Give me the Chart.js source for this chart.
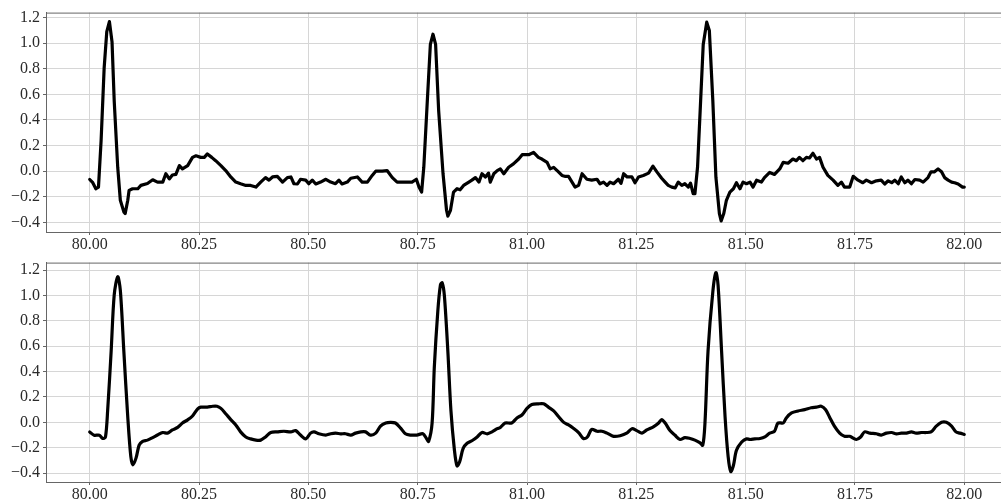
<!DOCTYPE html>
<html>
<head>
<meta charset="utf-8">
<script src="https://cdn.jsdelivr.net/npm/chart.js@4/dist/chart.umd.min.js"></script>
<style>
html,body{margin:0;padding:0;background:#fff;overflow:hidden;width:1001px;height:501px;}
.box{position:absolute;left:0;width:1008px;}
#b1{top:0;height:250px;}
#b2{top:250px;height:251px;}
</style>
</head>
<body>
<div class="box" id="b1"><canvas id="c1"></canvas></div>
<div class="box" id="b2"><canvas id="c2"></canvas></div>
<script>
// ---- data ----
const xTicks = [80.00, 80.25, 80.50, 80.75, 81.00, 81.25, 81.50, 81.75, 82.00];
const yTicks = [-0.4, -0.2, 0.0, 0.2, 0.4, 0.6, 0.8, 1.0, 1.2];

const topTime = [80.000,80.007,80.014,80.020,80.026,80.033,80.039,80.045,80.051,80.056,80.064,80.070,80.078,80.081,80.087,80.090,80.098,80.110,80.117,80.132,80.144,80.155,80.167,80.174,80.182,80.189,80.197,80.205,80.212,80.224,80.235,80.243,80.254,80.262,80.269,80.279,80.288,80.300,80.311,80.323,80.334,80.345,80.357,80.368,80.380,80.391,80.402,80.410,80.418,80.429,80.441,80.452,80.460,80.467,80.475,80.482,80.494,80.501,80.509,80.517,80.528,80.540,80.551,80.562,80.570,80.577,80.589,80.597,80.612,80.623,80.635,80.646,80.654,80.669,80.680,80.692,80.703,80.715,80.726,80.737,80.747,80.753,80.759,80.764,80.772,80.779,80.785,80.791,80.798,80.808,80.816,80.819,80.825,80.832,80.840,80.847,80.855,80.867,80.874,80.882,80.890,80.897,80.905,80.912,80.916,80.924,80.932,80.939,80.947,80.958,80.969,80.981,80.989,81.004,81.015,81.026,81.034,81.046,81.053,81.061,81.072,81.080,81.088,81.095,81.103,81.110,81.118,81.126,81.137,81.148,81.160,81.167,81.175,81.183,81.190,81.198,81.209,81.215,81.221,81.229,81.240,81.247,81.255,81.266,81.278,81.288,81.297,81.308,81.316,81.323,81.331,81.339,81.346,81.354,81.361,81.369,81.374,81.380,81.384,81.390,81.396,81.403,81.411,81.417,81.425,81.432,81.440,81.444,81.450,81.456,81.464,81.472,81.479,81.487,81.494,81.502,81.510,81.517,81.525,81.536,81.543,81.555,81.566,81.578,81.586,81.597,81.608,81.616,81.623,81.631,81.639,81.646,81.654,81.662,81.669,81.677,81.688,81.700,81.711,81.719,81.726,81.738,81.746,81.757,81.768,81.776,81.788,81.799,81.810,81.818,81.826,81.834,81.841,81.849,81.856,81.864,81.871,81.879,81.887,81.898,81.906,81.917,81.924,81.932,81.940,81.948,81.955,81.963,81.971,81.978,81.986,81.996,82.000];
const topValue = [-0.065,-0.09,-0.137,-0.124,0.238,0.807,1.09,1.169,1.01,0.548,0.031,-0.227,-0.318,-0.331,-0.227,-0.15,-0.137,-0.137,-0.111,-0.096,-0.067,-0.085,-0.085,-0.02,-0.06,-0.03,-0.025,0.044,0.018,0.044,0.108,0.12,0.108,0.108,0.135,0.108,0.082,0.044,0.005,-0.047,-0.085,-0.098,-0.111,-0.111,-0.124,-0.085,-0.05,-0.07,-0.045,-0.041,-0.085,-0.05,-0.045,-0.098,-0.1,-0.063,-0.07,-0.098,-0.07,-0.1,-0.085,-0.063,-0.085,-0.098,-0.07,-0.1,-0.085,-0.055,-0.045,-0.085,-0.085,-0.033,0.0,0.0,0.005,-0.05,-0.085,-0.085,-0.085,-0.085,-0.063,-0.124,-0.163,0.031,0.548,0.99,1.07,0.99,0.471,-0.02,-0.305,-0.351,-0.305,-0.163,-0.137,-0.145,-0.111,-0.085,-0.07,-0.05,-0.085,-0.02,-0.045,-0.015,-0.085,-0.02,0.005,0.018,-0.02,0.031,0.057,0.095,0.129,0.129,0.147,0.108,0.095,0.069,0.018,0.03,-0.005,-0.033,-0.041,-0.041,-0.085,-0.124,-0.111,-0.02,-0.063,-0.07,-0.063,-0.098,-0.085,-0.111,-0.085,-0.098,-0.063,-0.095,-0.02,-0.045,-0.045,-0.09,-0.045,-0.033,-0.015,0.039,-0.005,-0.055,-0.085,-0.111,-0.124,-0.13,-0.085,-0.111,-0.098,-0.124,-0.093,-0.176,-0.176,0.031,0.471,0.99,1.164,1.1,0.548,-0.047,-0.331,-0.388,-0.33,-0.227,-0.163,-0.137,-0.09,-0.137,-0.085,-0.098,-0.085,-0.124,-0.07,-0.085,-0.05,-0.01,-0.025,0.018,0.069,0.062,0.095,0.082,0.108,0.082,0.108,0.103,0.14,0.095,0.108,0.031,-0.033,-0.07,-0.111,-0.085,-0.124,-0.124,-0.04,-0.07,-0.09,-0.07,-0.09,-0.075,-0.07,-0.1,-0.075,-0.09,-0.07,-0.098,-0.045,-0.09,-0.07,-0.098,-0.065,-0.07,-0.085,-0.05,-0.005,-0.005,0.018,-0.005,-0.05,-0.07,-0.085,-0.09,-0.1,-0.124,-0.124];

const bottomTime = [80.000,80.010,80.022,80.030,80.036,80.041,80.049,80.056,80.064,80.070,80.078,80.087,80.094,80.099,80.106,80.113,80.121,80.132,80.144,80.155,80.167,80.178,80.189,80.201,80.212,80.224,80.235,80.247,80.254,80.269,80.281,80.291,80.300,80.311,80.323,80.334,80.345,80.357,80.368,80.380,80.391,80.402,80.414,80.429,80.444,80.460,80.471,80.482,80.494,80.505,80.513,80.524,80.540,80.551,80.562,80.574,80.585,80.597,80.608,80.620,80.631,80.642,80.654,80.665,80.677,80.688,80.699,80.711,80.722,80.733,80.748,80.762,80.770,80.775,80.783,80.788,80.796,80.802,80.806,80.811,80.819,80.826,80.834,80.840,80.846,80.854,80.863,80.874,80.886,80.897,80.909,80.920,80.932,80.939,80.950,80.965,80.977,80.989,81.000,81.011,81.026,81.038,81.049,81.061,81.072,81.084,81.095,81.106,81.118,81.129,81.138,81.148,81.160,81.171,81.183,81.198,81.213,81.228,81.240,81.251,81.263,81.274,81.289,81.301,81.308,81.316,81.327,81.338,81.350,81.361,81.373,81.384,81.395,81.402,81.407,81.414,81.425,81.432,81.437,81.445,81.453,81.460,81.466,81.472,81.479,81.491,81.502,81.510,81.521,81.533,81.544,81.555,81.566,81.574,81.586,81.593,81.605,81.620,81.635,81.650,81.662,81.673,81.683,81.692,81.703,81.715,81.726,81.738,81.753,81.763,81.772,81.784,81.799,81.810,81.822,81.834,81.845,81.856,81.868,81.879,81.890,81.902,81.913,81.924,81.936,81.948,81.959,81.971,81.981,81.990,82.000];
const bottomValue = [-0.076,-0.101,-0.101,-0.127,-0.115,0.094,0.562,1.005,1.148,1.04,0.562,0.042,-0.27,-0.335,-0.28,-0.18,-0.15,-0.14,-0.12,-0.1,-0.08,-0.085,-0.06,-0.04,-0.005,0.02,0.05,0.107,0.12,0.12,0.127,0.127,0.11,0.068,0.02,-0.02,-0.075,-0.115,-0.13,-0.14,-0.14,-0.115,-0.08,-0.075,-0.07,-0.075,-0.065,-0.1,-0.13,-0.085,-0.075,-0.09,-0.1,-0.09,-0.085,-0.09,-0.09,-0.1,-0.085,-0.075,-0.075,-0.1,-0.085,-0.03,-0.005,0.0,-0.005,-0.045,-0.09,-0.1,-0.1,-0.09,-0.127,-0.15,-0.005,0.432,0.875,1.083,1.1,1.0,0.56,0.094,-0.218,-0.343,-0.31,-0.205,-0.165,-0.145,-0.115,-0.08,-0.09,-0.075,-0.05,-0.04,-0.005,-0.005,0.035,0.06,0.11,0.14,0.146,0.146,0.12,0.09,0.046,0.0,-0.02,-0.046,-0.08,-0.127,-0.115,-0.055,-0.07,-0.07,-0.085,-0.11,-0.105,-0.085,-0.05,-0.065,-0.085,-0.06,-0.035,-0.005,0.022,-0.005,-0.065,-0.1,-0.135,-0.12,-0.127,-0.14,-0.16,-0.18,-0.005,0.562,1.03,1.18,1.08,0.56,0.042,-0.27,-0.388,-0.34,-0.22,-0.155,-0.13,-0.135,-0.13,-0.127,-0.115,-0.085,-0.07,-0.005,-0.005,0.035,0.074,0.09,0.1,0.115,0.12,0.127,0.1,0.04,-0.03,-0.085,-0.11,-0.11,-0.135,-0.115,-0.075,-0.085,-0.09,-0.1,-0.085,-0.08,-0.09,-0.085,-0.085,-0.075,-0.085,-0.08,-0.08,-0.075,-0.03,0.0,0.0,-0.03,-0.075,-0.085,-0.095];

// ---- styling ----
const FONT = {family: '"Liberation Serif", "Times New Roman", serif', size: 16};
const LABEL_COLOR = '#2a2a2a';
const SPINE = '#666666';
const GRID = '#d6d6d6';

const topSpine = {
  id: 'topSpine',
  afterDraw(chart) {
    const a = chart.chartArea, ctx = chart.ctx;
    ctx.save();
    ctx.strokeStyle = SPINE;
    ctx.lineWidth = 1;
    ctx.beginPath();
    ctx.moveTo(a.left, a.top + 0.5);
    ctx.lineTo(a.right, a.top + 0.5);
    ctx.stroke();
    ctx.restore();
  }
};

function fmt(v) {
  const s = Math.abs(v).toFixed(1);
  return (v < -1e-9 ? '\u2212' : '') + s;
}
function fmtX(v) { return v.toFixed(2); }

function makeChart(id, times, values, yMin, yMax, padTop, xHeight, tension) {
  const pts = times.map((t, i) => ({x: t, y: values[i]}));
  return new Chart(document.getElementById(id), {
    type: 'line',
    data: {datasets: [{
      data: pts,
      borderColor: '#000',
      borderWidth: 3.2,
      pointRadius: 0,
      tension: tension,
      fill: false,
      borderJoinStyle: 'round',
      borderCapStyle: 'round'
    }]},
    options: {
      responsive: true,
      maintainAspectRatio: false,
      animation: false,
      events: [],
      layout: {padding: {top: padTop, left: 0, right: 0, bottom: 0}},
      plugins: {legend: {display: false}, tooltip: {enabled: false}},
      scales: {
        x: {
          type: 'linear',
          min: 79.9, max: 82.1,
          afterBuildTicks: s => { s.ticks = xTicks.map(v => ({value: v})); },
          afterFit: s => { s.height = xHeight; },
          ticks: {font: FONT, color: LABEL_COLOR, padding: 0, maxRotation: 0, autoSkip: false, callback: v => fmtX(v)},
          grid: {color: GRID, lineWidth: 1, tickLength: 3, tickColor: SPINE},
          border: {display: true, color: SPINE, width: 1}
        },
        y: {
          type: 'linear',
          min: yMin, max: yMax,
          afterBuildTicks: s => { s.ticks = yTicks.map(v => ({value: v})); },
          afterFit: s => { s.width = 46; },
          ticks: {font: FONT, color: LABEL_COLOR, padding: 3, callback: v => fmt(v)},
          grid: {color: GRID, lineWidth: 1, tickLength: 3, tickColor: SPINE},
          border: {display: true, color: SPINE, width: 1}
        }
      }
    },
    plugins: [topSpine]
  });
}

makeChart('c1', topTime, topValue, -0.475, 1.239, 11, 18, 0);
makeChart('c2', bottomTime, bottomValue, -0.470, 1.259, 11, 19, 0.3);
</script>
</body>
</html>
